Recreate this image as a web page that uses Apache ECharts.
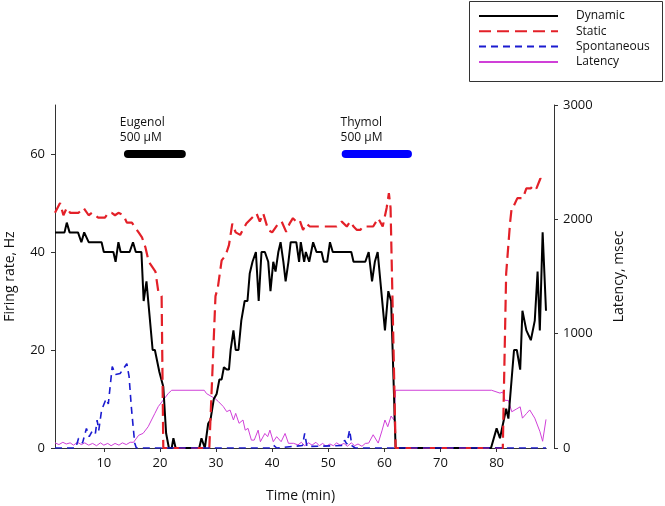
<!DOCTYPE html>
<html>
<head>
<meta charset="utf-8">
<script src="https://cdn.jsdelivr.net/npm/echarts@6/dist/echarts.min.js"></script>
<style>
html,body{margin:0;padding:0;background:#fff;}
#chart{width:665px;height:506px;}
</style>
</head>
<body>
<div id="chart"></div>
<script>
// ---- data (time in min) ----
const xTicks = [10, 20, 30, 40, 50, 60, 70, 80];
const leftTicks = [0, 20, 40, 60];
const rightTicks = [0, 1000, 2000, 3000];

// Dynamic firing rate, Hz  [time, value]
const dynamic = [[1.3,44],[3.0,44],[3.4,46],[3.9,44],[5.4,44],[6.0,42],[6.5,44],[7.3,42],[9.6,42],[10.0,40],[11.7,40],[12.1,38],[12.6,42],[13.0,40],[14.6,40],[15.2,42],[15.7,40],[16.7,40],[17.1,30],[17.6,34],[18.7,20],[19.1,20],[19.9,15.5],[20.6,12.5],[21.1,3],[21.6,0],[22.1,0],[22.4,2],[22.8,0],[27.0,0],[27.4,2],[28.0,0],[28.6,5],[29.0,5.7],[29.6,10],[30.1,11],[30.6,14],[31.0,14],[31.4,16.5],[31.9,16],[32.3,16],[32.6,20],[33.1,24],[33.5,20],[34.0,20],[34.5,26],[35.1,30],[35.6,30],[36.0,35.6],[36.5,38],[37.1,40],[37.6,30],[38.1,40],[38.7,40],[39.3,38],[39.7,32],[40.2,38],[40.6,36],[41.1,40],[41.5,42],[42.0,38],[42.4,34],[42.9,38],[43.3,42],[44.3,42],[44.8,38],[45.1,42],[45.7,38],[46.0,40],[46.6,38],[47.3,42],[47.9,40],[48.8,40],[49.2,38],[49.8,38],[50.3,42],[50.8,40],[54.1,40],[54.5,38],[56.6,38],[57.2,40],[57.8,34],[58.3,38],[58.8,40],[60.1,24],[60.7,32],[61.2,30],[62.0,0],[79.0,0],[80.0,4],[80.6,2],[81.7,8],[82.1,6],[83.1,20],[83.6,20],[84.2,16],[84.6,28],[85.3,24],[86.1,22],[86.8,26],[87.3,36],[87.7,24],[88.2,44],[88.8,28]];

// Static firing rate, Hz
const staticRate = [[1.3,48],[2.2,50],[2.8,47.5],[3.4,49],[4.0,48],[4.9,48],[5.5,48],[6.4,49],[7.3,47.5],[7.9,48],[9.0,47],[10.2,47],[10.8,48],[11.4,48],[12.0,47.5],[12.6,48],[13.5,47.5],[14.1,46],[15.0,46],[15.6,45],[16.2,44],[16.8,43],[17.4,41],[18.0,38],[18.6,37],[19.2,36],[19.7,32],[20.3,31],[20.6,0],[28.8,0],[29.9,31],[30.3,32.6],[31.0,38.3],[31.5,39],[31.9,40],[32.3,41.4],[32.9,45.8],[33.5,44],[34.3,43.5],[35.4,45.8],[36.6,47.2],[37.2,47.9],[37.8,46.2],[38.4,47.9],[39.3,44.5],[40.0,44],[41.1,45.8],[41.7,46.2],[42.5,44.1],[43.1,45.8],[43.7,46.9],[44.3,46.2],[44.9,46.5],[45.5,44.5],[46.1,45.8],[46.7,45.2],[51.5,45.2],[52.4,46.2],[53.3,45.2],[53.9,46.2],[54.5,45.2],[55.1,44.5],[55.7,44.5],[56.2,45.2],[58.0,45.2],[58.9,46.9],[59.7,45.2],[60.4,49],[60.8,52],[61.1,49],[62.0,0],[81.1,0],[81.7,35.6],[82.4,46],[82.7,49.2],[83.1,49.5],[83.7,51],[84.7,51],[85.3,53],[86.1,53],[86.5,53.6],[87.1,53],[87.8,55],[88.6,54]];

// Spontaneous firing rate, Hz
const spontaneous = [[1.3,0],[5.0,0],[5.5,2],[6.2,1],[6.9,4],[7.4,2.3],[8.0,3.6],[8.5,3],[8.8,5.7],[9.1,3.6],[9.6,7.7],[10.4,10],[10.8,9],[11.5,16.6],[12.1,15],[12.9,15.2],[14.1,17.2],[14.5,14.6],[14.9,8.4],[15.5,1],[15.8,0],[39.5,0],[40.2,0.6],[40.8,0],[45.4,0.5],[45.8,3],[46.2,0.3],[52.6,0.5],[52.9,1.6],[53.3,0.8],[53.8,3.7],[54.2,0.5],[54.8,0],[88.8,0]];

// Latency, msec (right axis)
const latency = [[1.3,45],[2.0,30],[2.7,50],[3.3,35],[4.0,45],[4.6,25],[5.3,50],[6.0,30],[6.6,45],[7.3,25],[8.0,40],[8.7,20],[9.4,45],[10.0,25],[10.7,40],[11.3,20],[12.0,40],[12.7,25],[13.3,45],[14.0,30],[14.7,50],[15.3,50],[16.2,111],[17.0,128],[17.9,186],[18.5,245],[19.1,303],[19.7,362],[20.6,420],[21.5,478],[22.1,505],[27.9,505],[28.3,476],[29.8,433],[30.4,407],[31.3,362],[31.9,318],[32.5,332],[33.1,245],[33.5,303],[34.1,216],[34.8,245],[35.2,156],[35.7,172],[36.3,69],[36.8,69],[37.5,156],[37.9,55],[38.7,127],[39.2,99],[39.6,156],[40.2,55],[40.8,99],[41.6,55],[42.3,127],[42.9,41],[43.8,41],[44.6,27],[45.2,50],[45.8,20],[46.5,45],[47.1,25],[47.8,50],[48.4,20],[49.0,40],[49.6,15],[50.3,35],[50.9,20],[51.5,45],[52.1,25],[52.8,40],[53.4,15],[54.1,45],[54.7,20],[55.3,35],[56.0,15],[56.6,40],[57.2,43],[58.0,116],[58.9,43],[59.6,156],[60.1,245],[60.6,186],[61.2,280],[61.7,245],[62.0,505],[79.1,505],[80.6,480],[81.1,490],[81.5,416],[82.1,416],[82.7,317],[83.5,340],[84.2,360],[84.6,261],[85.3,300],[85.9,333],[86.8,261],[87.7,146],[88.2,59],[88.8,250]];

// Drug application bars (time span, drawn at 60 Hz level)
const eugenolBar = [[14.3,60],[23.9,60]];
const thymolBar = [[53.1,60],[64.2,60]];
const eugenolLabel = {t: 12.85, y: 68, text: 'Eugenol\n500 µM'};
const thymolLabel = {t: 52.2, y: 68, text: 'Thymol\n500 µM'};

const FONT = 'Open Sans';
const chart = echarts.init(document.getElementById('chart'), null, {renderer: 'canvas'});

const axisCol = '#333';
const option = {
  animation: false,
  backgroundColor: '#fff',
  textStyle: {fontFamily: FONT},
  grid: {left: 55, right: 119, top: 105, bottom: 58, containLabel: false, outerBoundsMode: 'none'},
  legend: {
    orient: 'vertical', left: 478, top: 10, padding: 0,
    itemWidth: 79, itemHeight: 14, itemGap: 3.3,
    data: ['Dynamic', 'Static', 'Spontaneous', 'Latency'],
    itemStyle: {color: 'rgba(0,0,0,0)', borderColor: 'rgba(0,0,0,0)', borderWidth: 0, opacity: 0},
    textStyle: {fontFamily: FONT, fontSize: 12, color: '#111', padding: [0, 0, 0, 13]}
  },
  xAxis: [{
    type: 'value', min: 1.3, max: 88.8, position: 'bottom',
    name: 'Time (min)', nameLocation: 'middle', nameGap: 41,
    nameTextStyle: {fontFamily: FONT, fontSize: 14, color: '#111'},
    axisLine: {show: true, lineStyle: {color: axisCol, width: 1}},
    axisTick: {show: true, length: 4, customValues: xTicks, lineStyle: {color: axisCol}},
    axisLabel: {customValues: xTicks, fontFamily: FONT, fontSize: 13, color: '#111', margin: 9},
    splitLine: {show: false}
  }, {
    type: 'value', min: 1.3, max: 88.8, position: 'top',
    axisLine: {show: true, lineStyle: {color: axisCol, width: 1}},
    axisTick: {show: false}, axisLabel: {show: false}, splitLine: {show: false}
  }],
  yAxis: [{
    type: 'value', min: 0, max: 70, interval: 20, position: 'left',
    name: 'Firing rate, Hz', nameLocation: 'middle', nameGap: 38,
    nameTextStyle: {fontFamily: FONT, fontSize: 14, color: '#111'},
    axisLine: {show: true, lineStyle: {color: axisCol, width: 1}},
    axisTick: {show: true, length: 4, customValues: leftTicks, lineStyle: {color: axisCol}},
    axisLabel: {customValues: leftTicks, fontFamily: FONT, fontSize: 13, color: '#111', margin: 10},
    splitLine: {show: false}
  }, {
    type: 'value', min: 0, max: 3000, interval: 1000, position: 'right', offset: 8,
    name: 'Latency, msec', nameLocation: 'middle', nameGap: 58, nameRotate: 90,
    nameTextStyle: {fontFamily: FONT, fontSize: 14, color: '#111'},
    axisLine: {show: true, lineStyle: {color: axisCol, width: 1}},
    axisTick: {show: true, length: 4, customValues: rightTicks, lineStyle: {color: axisCol}},
    axisLabel: {customValues: rightTicks, formatter: function (v) { return String(v); },
                fontFamily: FONT, fontSize: 13, color: '#111', margin: 9},
    splitLine: {show: false}
  }],
  series: [
    {name: 'Latency', type: 'line', data: latency, yAxisIndex: 1, symbol: 'none', z: 2,
     lineStyle: {color: '#d040d8', width: 1}, itemStyle: {color: '#d040d8'}},
    {name: 'Dynamic', type: 'line', data: dynamic, symbol: 'none', z: 3,
     lineStyle: {color: '#000', width: 2}, itemStyle: {color: '#000'}},
    {name: 'Static', type: 'line', data: staticRate, symbol: 'none', z: 4,
     lineStyle: {color: '#e32028', width: 2.2, type: [12, 6]}, itemStyle: {color: '#e32028'}},
    {name: 'Spontaneous', type: 'line', data: spontaneous, symbol: 'none', z: 5,
     lineStyle: {color: '#1b1bd0', width: 1.6, type: [7, 5]}, itemStyle: {color: '#1b1bd0'}},
    {name: 'EugenolBar', type: 'line', data: eugenolBar, symbol: 'none', z: 6, silent: true,
     lineStyle: {color: '#000', width: 8, cap: 'round'}},
    {name: 'ThymolBar', type: 'line', data: thymolBar, symbol: 'none', z: 6, silent: true,
     lineStyle: {color: '#0000ff', width: 8, cap: 'round'}}
  ],
  graphic: [{
    type: 'rect', shape: {x: 469.5, y: 1.5, width: 193, height: 80},
    style: {fill: 'none', stroke: '#333', lineWidth: 1}, z: 10
  }]
};
chart.setOption(option);

// drug labels positioned through the axes
const labels = [eugenolLabel, thymolLabel].map(function (l) {
  const p = chart.convertToPixel({xAxisIndex: 0, yAxisIndex: 0}, [l.t, l.y]);
  return {
    type: 'text', x: p[0], y: p[1], z: 10,
    style: {text: l.text, fontFamily: FONT, fontSize: 12, fill: '#111', lineHeight: 15,
            textAlign: 'left', textVerticalAlign: 'top'}
  };
});
chart.setOption({graphic: option.graphic.concat(labels)});
</script>
</body>
</html>
